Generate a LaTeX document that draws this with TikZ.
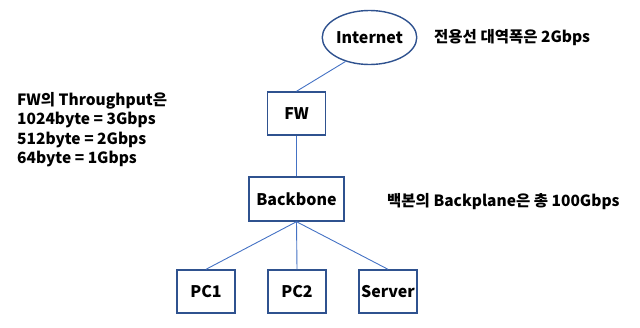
\documentclass[tikz,border=0pt]{standalone}
\usepackage{fontspec}
\setmainfont{Noto Sans CJK KR}
\usetikzlibrary{shapes.geometric}
\definecolor{boxblue}{HTML}{2F528F}
\definecolor{lineblue}{HTML}{4472C4}
\tikzset{
  box/.style={draw=boxblue, line width=1.4pt, minimum width=58pt, minimum height=43pt, inner sep=0pt, font=\fontsize{16}{19}\selectfont\bfseries},
  cloud/.style={ellipse, draw=boxblue, line width=1.4pt, minimum width=75pt, minimum height=54pt, inner sep=0pt, font=\fontsize{16}{19}\selectfont\bfseries},
  link/.style={draw=lineblue, line width=0.9pt},
  note/.style={font=\fontsize{15.5}{19.5}\selectfont\bfseries, inner sep=0pt, align=left}
}
\begin{document}
\begin{tikzpicture}[x=1pt,y=-1pt]
\useasboundingbox (0,0) rectangle (640,327);
\node[cloud] (inet) at (369.5,37.5) {Internet};
\node[box] (fw) at (296.5,113.5) {FW};
\node[box, minimum width=95pt, minimum height=44pt] (bb) at (296.5,199) {Backbone};
\node[box] (pc1) at (206,291.5) {PC1};
\node[box] (pc2) at (297,291.5) {PC2};
\node[box] (srv) at (388,291.5) {Server};
\draw[link] (inet.225) -- (fw.north);
\draw[link] (fw.south) -- (bb.north);
\draw[link] (bb.south) -- (pc1.north);
\draw[link] (bb.south) -- (pc2.north);
\draw[link] (bb.south) -- (srv.north);
\node[note, anchor=west] (bw) at (434,38) {전용선 대역폭은 2Gbps};
\node[note, anchor=north west] (thr) at (17,92) {FW의 Throughput은\\1024byte = 3Gbps\\512byte = 2Gbps\\64byte = 1Gbps};
\node[note, anchor=west] (bp) at (387,202) {백본의 Backplane은 총 100Gbps};
\end{tikzpicture}
\end{document}
